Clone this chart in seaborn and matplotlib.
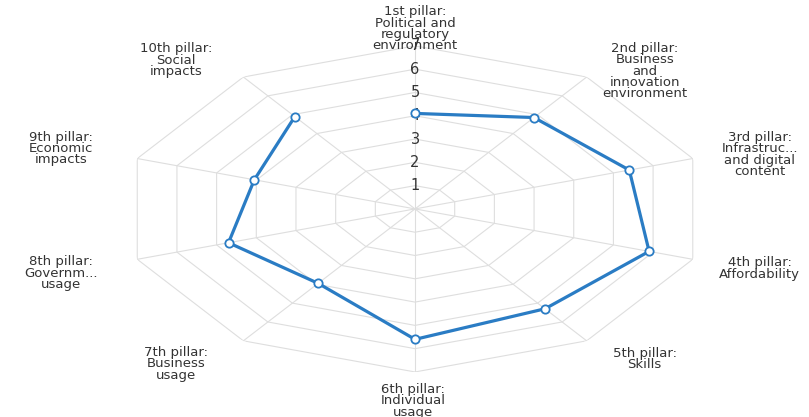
import numpy as np
import pandas as pd
import matplotlib.pyplot as plt
import seaborn as sns

# Data
pillars = [
    "1st pillar:\nPolitical and\nregulatory\nenvironment",
    "2nd pillar:\nBusiness\nand\ninnovation\nenvironment",
    "3rd pillar:\nInfrastruc...\nand digital\ncontent",
    "4th pillar:\nAffordability",
    "5th pillar:\nSkills",
    "6th pillar:\nIndividual\nusage",
    "7th pillar:\nBusiness\nusage",
    "8th pillar:\nGovernm...\nusage",
    "9th pillar:\nEconomic\nimpacts",
    "10th pillar:\nSocial\nimpacts",
]
scores = [4.1, 4.85, 5.4, 5.9, 5.3, 5.6, 3.95, 4.7, 4.05, 4.9]
ticks = [1, 2, 3, 4, 5, 6, 7]

# label offsets from outer vertex, pixels
label_offsets = [(0, 17), (58, 6), (67, 4), (67, -9), (58, -18),
                 (-2, -29), (-67, -23), (-76, -14), (-76, 10), (-67, 17)]

sns.set_style("white")
plt.rcParams['font.family'] = ['DejaVu Sans']

n = len(pillars)
angles = np.linspace(0, 2 * np.pi, n, endpoint=False)
theta = np.append(angles, angles[0])

df = pd.DataFrame({"theta": theta, "score": scores + scores[:1]})

fig = plt.figure(figsize=(8.09, 4.17), dpi=100)
ax = fig.add_axes([0.152, 0.108, 0.722, 0.782], projection='polar')
ax.set_aspect('auto')
ax.set_theta_offset(np.pi / 2)
ax.set_theta_direction(-1)
ax.set_ylim(0, 7)
ax.grid(False)
ax.set_xticks([])
ax.set_yticks([])
ax.spines['polar'].set_visible(False)

grid_color = '#dedede'
# polygon grid
for t in ticks:
    ax.plot(theta, [t] * len(theta), color=grid_color, lw=0.8, zorder=1)
# spokes
for a in angles:
    ax.plot([a, a], [0, 7], color=grid_color, lw=0.8, zorder=1)

# tick labels
for t in ticks:
    ax.text(0, t, str(t), ha='center', va='center', fontsize=10.5,
            color='#333333', zorder=2)

# data line
blue = '#2a7cc4'
sns.lineplot(data=df, x="theta", y="score", sort=False, ax=ax,
             color=blue, lw=2.3, marker='o', markersize=6,
             markerfacecolor='white', markeredgecolor=blue,
             markeredgewidth=1.3, zorder=3)
ax.set_xlabel("")
ax.set_ylabel("")
ax.set_ylim(0, 7)

# pillar labels
for a, lab, off in zip(angles, pillars, label_offsets):
    ax.annotate(lab, xy=(a, 7), xytext=off, textcoords='offset pixels',
                ha='center', va='center', multialignment='center',
                fontsize=9.5, color='#333333', linespacing=0.84,
                annotation_clip=False)

fig.savefig('out.png', dpi=100)
